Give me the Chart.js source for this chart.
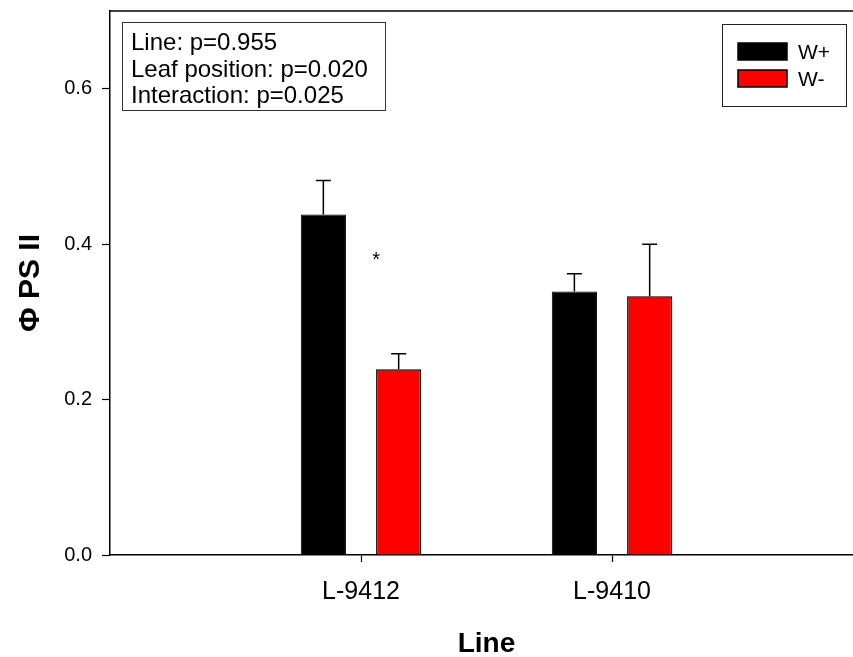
<!DOCTYPE html>
<html>
<head>
<meta charset="utf-8">
<script src="https://cdn.jsdelivr.net/npm/chart.js@4.4.0/dist/chart.umd.min.js"></script>
<style>
  html, body { margin: 0; padding: 0; background: #fff; overflow: hidden; }
  #wrap { width: 853px; height: 657px; }
</style>
</head>
<body>
<div id="wrap"><canvas id="c" width="853" height="657"></canvas></div>
<script>
// Photosystem II quantum yield per line, with and without treatment
const categories = ['L-9412', 'L-9410'];
const seriesNames = ['W+', 'W-'];
const wPlus = [0.438, 0.339];
const wMinus = [0.239, 0.333];
const wPlusErr = [0.044, 0.023];
const wMinusErr = [0.020, 0.067];
const yTicks = [0.0, 0.2, 0.4, 0.6];
const statsLines = ['Line: p=0.955', 'Leaf position: p=0.020', 'Interaction: p=0.025'];
const significance = ['*', ''];
const sigLevel = 0.38;

const FONT = '"Liberation Sans", Arial, Helvetica, sans-serif';

const toPoints = vals => vals.map((v, i) => ({ x: i + 1, y: v }));

const overlay = {
  id: 'overlay',
  afterDatasetsDraw(chart) {
    const ctx = chart.ctx;
    const xs = chart.scales.x, ys = chart.scales.y;
    const area = chart.chartArea;
    ctx.save();

    // top frame line
    ctx.strokeStyle = '#000';
    ctx.lineWidth = 1.5;
    ctx.beginPath();
    ctx.moveTo(area.left, area.top);
    ctx.lineTo(area.right, area.top);
    ctx.stroke();

    // error bars (upper whisker only)
    chart.data.datasets.forEach((ds, di) => {
      const meta = chart.getDatasetMeta(di);
      meta.data.forEach((bar, i) => {
        const top = ys.getPixelForValue(ds.data[i].y + ds.errors[i]);
        ctx.beginPath();
        ctx.lineWidth = 1.5;
        ctx.moveTo(bar.x, bar.y);
        ctx.lineTo(bar.x, top);
        ctx.moveTo(bar.x - 7.5, top);
        ctx.lineTo(bar.x + 7.5, top);
        ctx.stroke();
      });
    });

    // significance markers next to the W- bars
    const metaMinus = chart.getDatasetMeta(1);
    ctx.fillStyle = '#000';
    ctx.font = '20px ' + FONT;
    ctx.textAlign = 'center';
    ctx.textBaseline = 'alphabetic';
    significance.forEach((s, i) => {
      if (!s) return;
      const bar = metaMinus.data[i];
      ctx.fillText(s, bar.x - bar.width / 2, ys.getPixelForValue(sigLevel) + 6);
    });

    // statistics box
    ctx.lineWidth = 1;
    ctx.strokeStyle = '#333';
    ctx.strokeRect(122.5, 22.5, 263, 88);
    ctx.font = '24px ' + FONT;
    ctx.textAlign = 'left';
    statsLines.forEach((t, i) => ctx.fillText(t, 131, 50 + i * 26.5));

    // legend
    ctx.strokeStyle = '#222';
    ctx.strokeRect(722.5, 24.5, 124, 82);
    ctx.font = '21px ' + FONT;
    chart.data.datasets.forEach((ds, di) => {
      const y0 = di === 0 ? 43 : 70;
      ctx.fillStyle = ds.backgroundColor;
      ctx.fillRect(738, y0, 49, 17);
      ctx.lineWidth = 1.5;
      ctx.strokeStyle = '#000';
      ctx.strokeRect(738, y0, 49, 17);
      ctx.fillStyle = '#000';
      ctx.fillText(ds.label, 798, y0 + 16);
    });

    // axis titles
    ctx.font = 'bold 28px ' + FONT;
    ctx.textAlign = 'center';
    ctx.fillText('Line', xs.getPixelForValue(1.5), 652);
    ctx.save();
    ctx.translate(39, (area.top + area.bottom) / 2);
    ctx.rotate(-Math.PI / 2);
    ctx.font = 'bold 30px ' + FONT;
    ctx.fillText('\u03A6 PS II', 0, 0);
    ctx.restore();

    ctx.restore();
  }
};

new Chart(document.getElementById('c'), {
  type: 'bar',
  data: {
    datasets: [
      { label: seriesNames[0], data: toPoints(wPlus), errors: wPlusErr,
        backgroundColor: '#000000', borderColor: '#000000', borderWidth: 1 },
      { label: seriesNames[1], data: toPoints(wMinus), errors: wMinusErr,
        backgroundColor: '#ff0000', borderColor: '#000000', borderWidth: 1.5 }
    ]
  },
  options: {
    responsive: false,
    animation: false,
    categoryPercentage: 0.6,
    barPercentage: 0.6,
    layout: { padding: { top: 11, left: 0, right: 0, bottom: 0 } },
    plugins: { legend: { display: false }, tooltip: { enabled: false } },
    scales: {
      x: {
        type: 'linear',
        min: 0,
        max: 2.96,
        offset: false,
        afterBuildTicks: s => { s.ticks = categories.map((c, i) => ({ value: i + 1 })); },
        afterFit: s => { s.height = 102; s.paddingLeft = 0; s.paddingRight = 0; },
        ticks: {
          callback: v => categories[v - 1],
          font: { family: FONT, size: 25 },
          color: '#000',
          padding: 15,
          maxRotation: 0
        },
        grid: { display: true, drawOnChartArea: false, offset: false, tickLength: 7, color: '#000', tickWidth: 1.2 },
        border: { display: true, color: '#000', width: 1.5 }
      },
      y: {
        min: 0,
        max: 0.7,
        afterBuildTicks: s => { s.ticks = yTicks.map(v => ({ value: v })); },
        afterFit: s => { s.width = 110; s.paddingTop = 0; s.paddingBottom = 0; },
        ticks: {
          callback: v => v.toFixed(1),
          font: { family: FONT, size: 20 },
          color: '#000',
          padding: 10
        },
        grid: { display: true, drawOnChartArea: false, tickLength: 8, color: '#000', tickWidth: 1.2 },
        border: { display: true, color: '#000', width: 1.5 }
      }
    }
  },
  plugins: [overlay]
});
</script>
</body>
</html>
